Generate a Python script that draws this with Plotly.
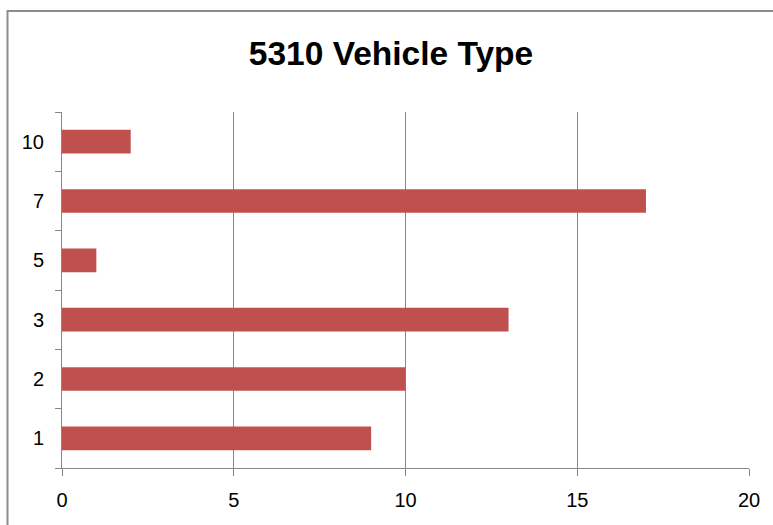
import plotly.graph_objects as go

categories = ["1", "2", "3", "5", "7", "10"]
values = [9, 10, 13, 1, 17, 2]
x_ticks = [0, 5, 10, 15, 20]
title = "5310 Vehicle Type"

W, H = 773, 525
L, R, T, B = 62, 24, 112, 57
pw, ph = W - L - R, H - T - B

fig = go.Figure(go.Bar(
    y=categories, x=values, orientation="h",
    marker=dict(color="#C0504D", line=dict(width=0)),
    width=0.4,
))

fam = "Liberation Sans, Arial, sans-serif"
fig.update_layout(
    width=W, height=H,
    margin=dict(l=L, r=R, t=T, b=B),
    paper_bgcolor="white", plot_bgcolor="white",
    showlegend=False,
    title=dict(text="<b>" + title + "</b>", x=(391 - L) / pw, xref="paper", xanchor="center",
               y=(H - 53) / H, yanchor="middle", yref="container",
               font=dict(family=fam, size=33.5, color="#000000")),
    xaxis=dict(range=[0, 20], tickvals=x_ticks, showgrid=True, gridcolor="#878787", gridwidth=1,
               showline=True, linecolor="#878787", linewidth=1, ticks="outside", ticklen=7,
               tickcolor="#878787", zeroline=False,
               tickfont=dict(family=fam, size=20, color="#000"),
               ticklabelstandoff=7, fixedrange=True),
    yaxis=dict(type="category", categoryorder="array", categoryarray=categories,
               showline=True, linecolor="#878787", linewidth=1, ticks="outside", ticklen=6,
               tickcolor="#878787", tickson="boundaries", showgrid=False,
               tickfont=dict(family=fam, size=20, color="#000"),
               ticklabelstandoff=13, fixedrange=True),
)

# outer chart border
fig.add_shape(type="rect", xref="paper", yref="paper",
              x0=(7.5 - L) / pw, x1=(W + 20 - L) / pw,
              y0=-(B + 20) / ph, y1=(H - 11 - B) / ph,
              line=dict(color="#8c8c8c", width=2), fillcolor="rgba(0,0,0,0)", layer="below")

fig.write_html("out.html", config={"displayModeBar": False},
               post_script="document.body.style.margin='0';")
